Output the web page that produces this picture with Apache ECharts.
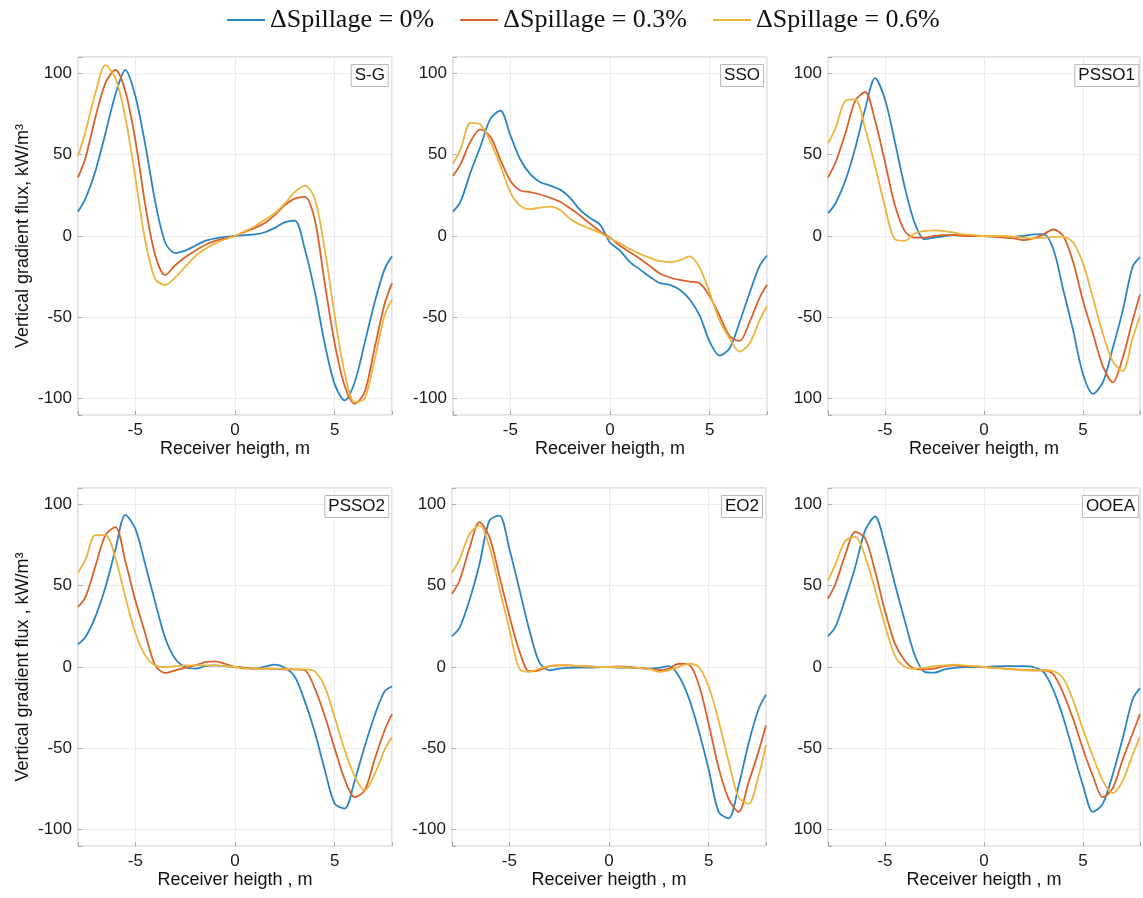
<!DOCTYPE html>
<html>
<head>
<meta charset="utf-8">
<script src="https://cdn.jsdelivr.net/npm/echarts@6/dist/echarts.min.js"></script>
<style>
  html, body { margin: 0; padding: 0; background: #ffffff; }
  #chart { width: 1143px; height: 898px; }
</style>
</head>
<body>
<div id="chart"></div>
<script>
// ---------------- DATA ----------------
const seriesNames = ['ΔSpillage = 0%', 'ΔSpillage = 0.3%', 'ΔSpillage = 0.6%'];
const panelNames = ['S-G', 'SSO', 'PSSO1', 'PSSO2', 'EO2', 'OOEA'];

// receiver height, m
const heights = [-7.875, -7.5, -7, -6.5, -6, -5.5, -5, -4.5, -4, -3.5, -3, -2.5, -2, -1.5, -1, -0.5,
  0, 0.5, 1, 1.5, 2, 2.5, 3, 3.5, 4, 4.5, 5, 5.5, 6, 6.5, 7, 7.5, 7.875];

const xTickValues = [-5, 0, 5];
const xTickLabels = ['-5', '0', '5'];
const yTickValues = [-100, -50, 0, 50, 100];
const yTickLabelsStd = ['-100', '-50', '0', '50', '100'];
const yTickLabelsAlt = ['100', '-50', '0', '50', '100'];

// S-G
const sg0 = [15, 23, 40, 63, 87, 102, 86, 56, 21, -4, -10.5, -9, -6, -3, -1.5, -0.5, 0, 0.6, 1, 2.3, 5, 8.5, 9.5, -8, -34, -66, -91, -101, -90, -66, -41, -20.5, -12.5];
const sg3 = [36, 48, 73, 94, 102, 89, 59, 19, -12, -24, -18, -13, -9, -5.5, -3, -1.5, 0, 2.5, 5, 8, 13, 19, 23, 24, 10, -29, -66, -92, -103, -96, -69, -42, -29];
const sg6 = [49, 64, 88, 105, 97, 73, 36, -3, -26.5, -30, -25.5, -19, -12.5, -8, -4.5, -2, 0, 3, 6, 10, 14, 20, 27, 31, 23, -8, -49, -84, -102, -100, -76, -49, -39];
// SSO
const sso0 = [15, 21, 39, 55, 72, 77, 62, 47, 38, 33, 31, 28.5, 23.5, 16, 11, 7, -4, -9, -16, -20.5, -25, -29, -30, -33, -39, -49, -65, -73.5, -69, -53, -35, -18.5, -12];
const sso3 = [37, 44, 58, 65.5, 61, 47, 34, 28, 27, 25.5, 23.5, 21, 17, 12.5, 7.5, 3, -1, -6, -10, -14, -18.5, -23, -25.5, -27, -28, -29, -37, -49, -61.5, -64.5, -53, -38, -30];
const sso6 = [44.5, 53, 69.5, 68.5, 58, 43.5, 27, 18.5, 16.5, 17.5, 18, 16, 10.5, 7, 4.5, 2, -1.5, -4.5, -8, -11, -13.5, -15.5, -16, -15, -12.5, -19.5, -35, -52, -63, -71, -66, -52, -43];
// PSSO1
const p10 = [14, 20, 34, 54, 78, 97, 84, 58, 30, 8, -2, -1, 0, 0.5, 0.5, 0, 0, 0, -0.5, -0.5, 0, 1, 1.2, -8, -33, -58, -85, -97, -90, -69, -46, -19, -13];
const p13 = [36, 45, 63, 83, 88.5, 71, 45.5, 19, 3, -1, -1, 0, 0.5, 0.5, 0, 0, 0, -0.5, -1, -1.5, -2.5, -1.5, 1, 4, 0, -16, -40, -60, -80, -90, -75, -52, -36];
const p16 = [57, 66, 83, 84, 66, 43, 18, -2, -3, 1.5, 3, 3.5, 3, 2, 1, 0.5, 0, 0, 0, -0.5, -1, -1.5, -1.2, -0.5, -0.5, -4, -17, -38, -60, -77, -83, -63, -49];
// PSSO2
const p20 = [14, 18.5, 31, 49, 72, 93.5, 85, 63, 39.6, 17.8, 5, 0, -1, 0.5, 1, 0.5, 0, -0.5, -1, 0.3, 1.5, -0.5, -6, -21, -40, -63, -84, -87, -70, -49, -30, -15, -12];
const p23 = [37, 43, 62, 81, 86, 65, 41, 20.5, 1, -3.7, -2, -0.5, 1, 3, 3.5, 2, 0, -0.5, -1, -1, -1.2, -1.5, -1.5, -2, -13, -30, -50, -69, -80, -76, -57, -39, -29];
const p26 = [58, 66, 81, 81, 67, 43, 21, 7, 1, 0, 0.5, 1, 1, 1, 1, 0.5, 0, -1, -1, -1, -1, -1.2, -1.4, -1.4, -2.7, -12, -31, -51, -67, -76, -66, -51, -43];
// EO2
const eo0 = [19, 24, 41, 63, 90, 93, 72.6, 48, 23, 3, -2, -1, -0.5, -0.4, -0.4, -0.2, 0, -0.3, -0.4, -0.6, -1, -0.5, 0.5, -5.5, -19, -39, -63, -89, -93, -73, -47, -26, -17];
const eo3 = [45, 53, 73, 89, 80, 56, 31.6, 10, -2.5, -2, 0.5, 1, 1, 0.5, 0.3, 0, 0, 0.3, 0, -0.5, -1, -2, -1, 2, 1.5, -10.6, -35, -62, -81, -89, -71, -52, -36];
const eo6 = [58, 66, 81.6, 87, 74, 48.6, 23.4, -1, -3, -1, 0.5, 1, 1, 0.5, 0.3, 0, 0, 0, -0.3, -0.6, -1, -3, -2, 0, 2, 0, -12, -33, -58, -80, -84, -67, -48];
// OOEA
const oo0 = [19, 24.6, 42, 61.5, 84, 92.5, 75, 51, 28.5, 7.4, -3, -3.5, -1.5, -0.5, 0, 0, 0, 0.3, 0.5, 0.5, 0.5, 0, -3, -14, -31, -52, -73, -89, -84, -66, -44, -20, -13];
const oo3 = [42, 51, 69, 83, 79, 59, 34.5, 14.5, 4, -1, -1.5, -1, 0.5, 1, 0.5, 0.3, 0, -0.5, -1, -1.5, -1.8, -2, -2, -4.5, -16, -32, -50.5, -67, -80, -74.5, -57, -41, -29];
const oo6 = [53, 63, 77.5, 80, 68, 47.6, 25.6, 7, 0, -1, -0.5, 0.5, 1, 1.5, 1, 0.5, 0, -0.5, -1, -1.5, -2, -2, -2, -2.5, -7, -20.5, -38.5, -55, -70, -77.5, -70, -54, -43];

const panelSeries = [
  [sg0, sg3, sg6],
  [sso0, sso3, sso6],
  [p10, p13, p16],
  [p20, p23, p26],
  [eo0, eo3, eo6],
  [oo0, oo3, oo6]
];
const panelYLabels = [yTickLabelsStd, yTickLabelsStd, yTickLabelsAlt, yTickLabelsStd, yTickLabelsStd, yTickLabelsAlt];
const xAxisTitles = ['Receiver heigth, m', 'Receiver heigth, m', 'Receiver heigth, m',
  'Receiver heigth , m', 'Receiver heigth , m', 'Receiver heigth , m'];
const yAxisTitles = ['Vertical gradient flux, kW/m³', '', '', 'Vertical gradient flux , kW/m³', '', ''];

// ---------------- LAYOUT / STYLE ----------------
const colors = ['#2a85c4', '#d9622b', '#ecb53c'];
const W = 1143;
const boxes = [
  { left: 78, top: 57, width: 314, height: 358 },
  { left: 453, top: 57, width: 314, height: 358 },
  { left: 828, top: 57, width: 314, height: 358 },
  { left: 78, top: 488, width: 314, height: 358 },
  { left: 452, top: 488, width: 314, height: 358 },
  { left: 828, top: 488, width: 314, height: 358 }
];
const FONT = 'Liberation Sans, Arial, sans-serif';

const grid = [], xAxis = [], yAxis = [], series = [], title = [];
boxes.forEach((b, i) => {
  grid.push({ left: b.left, top: b.top, width: b.width, height: b.height,
    show: true, borderColor: '#c4c4c4', borderWidth: 1, backgroundColor: '#ffffff', containLabel: false });
  xAxis.push({
    gridIndex: i, type: 'value', min: -7.875, max: 7.875, splitNumber: 3,
    name: xAxisTitles[i], nameLocation: 'middle', nameGap: 24,
    nameTextStyle: { fontFamily: FONT, fontSize: 18, color: '#111' },
    axisLine: { show: false, onZero: false },
    axisTick: { show: true, inside: true, length: 4, lineStyle: { color: '#a8a8a8' } },
    splitLine: { show: true, lineStyle: { color: '#ebebeb', width: 1 } },
    axisLabel: {
      fontFamily: FONT, fontSize: 17, color: '#1a1a1a', margin: 7,
      formatter: v => { const k = xTickValues.indexOf(v); return k >= 0 ? xTickLabels[k] : ''; }
    }
  });
  const labs = panelYLabels[i];
  yAxis.push({
    gridIndex: i, type: 'value', min: -110, max: 110, splitNumber: 4,
    name: yAxisTitles[i], nameLocation: 'middle', nameGap: 46,
    nameTextStyle: { fontFamily: FONT, fontSize: 18, color: '#111' },
    axisLine: { show: false, onZero: false },
    axisTick: { show: true, inside: true, length: 4, lineStyle: { color: '#a8a8a8' } },
    splitLine: { show: true, lineStyle: { color: '#ebebeb', width: 1 } },
    axisLabel: {
      fontFamily: FONT, fontSize: 17, color: '#1a1a1a', margin: 6,
      formatter: v => { const k = yTickValues.indexOf(v); return k >= 0 ? labs[k] : ''; }
    }
  });
  title.push({
    text: panelNames[i],
    right: W - (b.left + b.width) + 3,
    top: b.top + 7,
    padding: [3, 4, 3, 4],
    borderColor: '#b8b8b8', borderWidth: 1, backgroundColor: '#ffffff',
    textStyle: { fontFamily: FONT, fontSize: 17, fontWeight: 'normal', color: '#111' }
  });
  panelSeries[i].forEach((ys, s) => {
    series.push({
      name: seriesNames[s], type: 'line', xAxisIndex: i, yAxisIndex: i,
      data: heights.map((h, k) => [h, ys[k]]),
      showSymbol: false, symbol: 'none', smooth: 0.3, clip: true,
      lineStyle: { color: colors[s], width: 1.8 }, itemStyle: { color: colors[s] },
      emphasis: { disabled: true }, z: 2 + s
    });
  });
});

const chart = echarts.init(document.getElementById('chart'), null, { renderer: 'canvas' });
chart.setOption({
  backgroundColor: '#ffffff',
  animation: false,
  color: colors,
  title: title,
  legend: {
    data: seriesNames, left: 222, top: 2, icon: 'rect', itemWidth: 38, itemHeight: 2,
    itemGap: 26, textStyle: { fontFamily: 'Liberation Serif, serif', fontSize: 26, color: '#111' }
  },
  grid: grid, xAxis: xAxis, yAxis: yAxis, series: series
});
</script>
</body>
</html>
